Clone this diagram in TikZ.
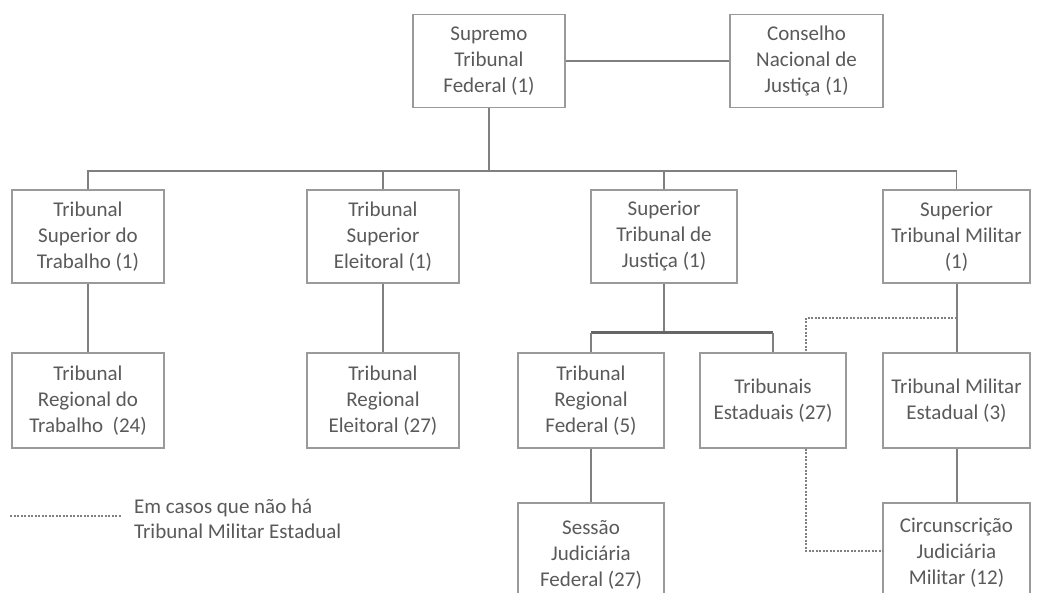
\documentclass[tikz,border=0pt]{standalone}
\usepackage{fontspec}
\setmainfont{Carlito}
\definecolor{txt}{HTML}{5A5A5A}
\definecolor{boxc}{HTML}{9A9A9A}
\definecolor{linec}{HTML}{808080}
\begin{document}
\begin{tikzpicture}[x=1pt,y=-1pt,
  box/.style={draw=boxc,line width=1.3pt,fill=white,align=center,inner sep=0pt,
    minimum width=152pt,minimum height=93pt,text=txt,
    font=\fontsize{21}{26}\selectfont},
  conn/.style={draw=linec,line width=2pt},
  busline/.style={draw=linec!80!black,line width=3pt},
  dsh/.style={draw=linec,line width=1.6pt,dash pattern=on 2pt off 1.5pt}]
\useasboundingbox[fill=white] (0,0) rectangle (1045,593);
% top
\node[box] (stf) at (489,61) {Supremo\\Tribunal\\Federal (1)};
\node[box,minimum width=153pt] (cnj) at (806.5,61) {Conselho\\Nacional de\\Justiça (1)};
% first level
\node[box] (tst) at (88,236.5) {Tribunal\\Superior do\\Trabalho (1)};
\node[box] (tse) at (383,236.5) {Tribunal\\Superior\\Eleitoral (1)};
\node[box,minimum width=146pt] (stj) at (664,236.5) {Superior\\Tribunal de\\Justiça (1)};
\node[box,minimum width=147pt] (stm) at (956.5,236.5) {Superior\\Tribunal Militar\\(1)};
% second level
\node[box,minimum height=95pt] (trt) at (88,400.5) {Tribunal\\Regional do\\Trabalho\ \ (24)};
\node[box,minimum height=95pt] (tre) at (383,400.5) {Tribunal\\Regional\\Eleitoral (27)};
\node[box,minimum width=146pt,minimum height=95pt] (trf) at (591,400.5) {Tribunal\\Regional\\Federal (5)};
\node[box,minimum width=146pt,minimum height=95pt] (te) at (773,400.5) {Tribunais\\Estaduais (27)};
\node[box,minimum width=147pt,minimum height=95pt] (tme) at (956.5,400.5) {Tribunal Militar\\Estadual (3)};
% third level
\node[box,minimum width=146pt,minimum height=100pt,text depth=0pt] (sjf) at (591,553) {\raisebox{-4pt}{}Sessão\\Judiciária\\Federal (27)};
\node[box,minimum width=147pt,minimum height=100pt] (cjm) at (956.5,553) {Circunscrição\\Judiciária\\Militar (12)};
% connectors
\coordinate (stfbus) at (489,171);
\coordinate (stjbus) at (664,333);
\coordinate (stmd) at (956.5,318);
\draw[conn] (stf.east) -- (cnj.west);
\draw[conn] (stf.south) -- (stfbus);
\draw[conn,line width=1.5pt] (tst.north) |- (stfbus) -| (stm.north);
\draw[conn,line width=1.5pt] (tse.north) -- (tse.north |- stfbus);
\draw[conn,line width=1.5pt] (stj.north) -- (stj.north |- stfbus);
\draw[conn] (tst.south) -- (trt.north);
\draw[conn] (tse.south) -- (tre.north);
\draw[conn] (stj.south) -- (stjbus);
\draw[busline] (trf.north |- stjbus) -- (te.north |- stjbus);
\draw[conn] (trf.north) -- (trf.north |- stjbus);
\draw[conn] (te.north) -- (te.north |- stjbus);
\draw[conn] (stm.south) -- (tme.north);
\draw[conn] (trf.south) -- (sjf.north);
\draw[conn] (tme.south) -- (cjm.north);
\draw[dsh] (stmd) -| ([xshift=33pt]te.north);
\draw[dsh] ([xshift=33pt]te.south) |- (cjm.west |- 0,551);
% legend
\coordinate (lg1) at (10,516);
\coordinate (lg2) at (122,516);
\draw[dsh] (lg1) -- (lg2);
\node[anchor=west,align=left,text=txt,inner sep=0pt,font=\fontsize{21}{25}\selectfont] (leg) at (134,519) {Em casos que não há\\Tribunal Militar Estadual};
\end{tikzpicture}
\end{document}
